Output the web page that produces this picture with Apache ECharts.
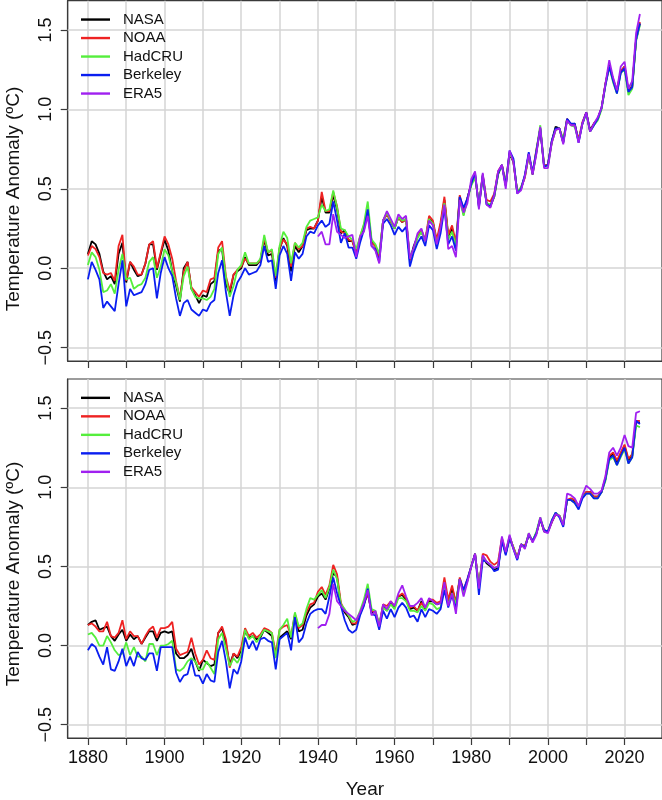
<!DOCTYPE html>
<html>
<head>
<meta charset="utf-8">
<script src="https://cdn.jsdelivr.net/npm/echarts@6/dist/echarts.min.js"></script>
<style>
html,body{margin:0;padding:0;background:#fff;overflow:hidden;}
#chart{width:662px;height:800px;}
</style>
</head>
<body>
<div id="chart"></div>
<script>
// ---------- categories ----------
const years = [
1880,1881,1882,1883,1884,1885,1886,1887,1888,1889,
1890,1891,1892,1893,1894,1895,1896,1897,1898,1899,
1900,1901,1902,1903,1904,1905,1906,1907,1908,1909,
1910,1911,1912,1913,1914,1915,1916,1917,1918,1919,
1920,1921,1922,1923,1924,1925,1926,1927,1928,1929,
1930,1931,1932,1933,1934,1935,1936,1937,1938,1939,
1940,1941,1942,1943,1944,1945,1946,1947,1948,1949,
1950,1951,1952,1953,1954,1955,1956,1957,1958,1959,
1960,1961,1962,1963,1964,1965,1966,1967,1968,1969,
1970,1971,1972,1973,1974,1975,1976,1977,1978,1979,
1980,1981,1982,1983,1984,1985,1986,1987,1988,1989,
1990,1991,1992,1993,1994,1995,1996,1997,1998,1999,
2000,2001,2002,2003,2004,2005,2006,2007,2008,2009,
2010,2011,2012,2013,2014,2015,2016,2017,2018,2019,
2020,2021,2022,2023,2024];
const era5Years = [
1940,1941,1942,1943,1944,1945,1946,1947,1948,1949,
1950,1951,1952,1953,1954,1955,1956,1957,1958,1959,
1960,1961,1962,1963,1964,1965,1966,1967,1968,1969,
1970,1971,1972,1973,1974,1975,1976,1977,1978,1979,
1980,1981,1982,1983,1984,1985,1986,1987,1988,1989,
1990,1991,1992,1993,1994,1995,1996,1997,1998,1999,
2000,2001,2002,2003,2004,2005,2006,2007,2008,2009,
2010,2011,2012,2013,2014,2015,2016,2017,2018,2019,
2020,2021,2022,2023,2024];

// ---------- tick labels ----------
const xTickYears = [1880,1890,1900,1910,1920,1930,1940,1950,1960,1970,1980,1990,2000,2010,2020];
const xLabelYears = [1880,1900,1920,1940,1960,1980,2000,2020];
const yTicks = [-0.5,0,0.5,1.0,1.5];
const seriesNames = ['NASA','NOAA','HadCRU','Berkeley','ERA5'];

// ---------- top panel values ----------
const topNASA = [
0.09,0.17,0.15,0.09,-0.02,-0.07,-0.05,-0.10,0.09,0.16,
-0.09,0.04,-0.01,-0.05,-0.04,0.03,0.15,0.15,-0.01,0.09,
0.18,0.11,-0.02,-0.11,-0.21,0.00,0.04,-0.13,-0.17,-0.22,
-0.17,-0.18,-0.10,-0.08,0.11,0.12,-0.10,-0.16,-0.04,-0.02,
0.00,0.07,0.02,0.02,0.02,0.05,0.18,0.08,0.09,-0.08,
0.12,0.19,0.14,-0.02,0.14,0.10,0.14,0.24,0.25,0.25,
0.30,0.45,0.35,0.35,0.46,0.37,0.22,0.24,0.17,0.17,
0.10,0.19,0.26,0.36,0.17,0.14,0.07,0.30,0.34,0.30,
0.25,0.32,0.29,0.31,0.05,0.14,0.20,0.23,0.17,0.31,
0.29,0.16,0.27,0.43,0.20,0.25,0.14,0.45,0.34,0.44,
0.53,0.59,0.39,0.58,0.41,0.39,0.45,0.59,0.65,0.52,
0.72,0.67,0.48,0.50,0.58,0.72,0.59,0.73,0.88,0.64,
0.65,0.80,0.89,0.88,0.79,0.94,0.90,0.91,0.80,0.91,
0.98,0.87,0.91,0.94,1.01,1.16,1.28,1.19,1.11,1.24,
1.27,1.11,1.15,1.44,1.54];
const topNOAA = [
0.08,0.14,0.12,0.07,-0.03,-0.04,-0.03,-0.08,0.14,0.21,
-0.08,0.04,0.01,-0.04,-0.04,0.03,0.15,0.17,0.00,0.10,
0.20,0.15,0.06,-0.08,-0.19,-0.02,0.04,-0.12,-0.15,-0.18,
-0.14,-0.15,-0.07,-0.06,0.13,0.17,-0.05,-0.14,-0.04,-0.01,
0.01,0.06,0.03,0.03,0.03,0.05,0.19,0.10,0.11,-0.06,
0.13,0.18,0.15,0.01,0.16,0.12,0.14,0.25,0.26,0.25,
0.30,0.48,0.36,0.36,0.48,0.39,0.23,0.22,0.18,0.17,
0.09,0.20,0.27,0.35,0.16,0.14,0.07,0.30,0.34,0.29,
0.26,0.32,0.29,0.31,0.05,0.12,0.20,0.24,0.18,0.33,
0.30,0.18,0.29,0.45,0.21,0.27,0.16,0.46,0.36,0.44,
0.53,0.58,0.40,0.59,0.43,0.42,0.47,0.61,0.65,0.54,
0.73,0.67,0.48,0.51,0.57,0.71,0.60,0.75,0.88,0.65,
0.65,0.79,0.87,0.88,0.81,0.94,0.90,0.90,0.81,0.92,
0.98,0.86,0.91,0.94,1.01,1.16,1.27,1.19,1.12,1.24,
1.27,1.12,1.14,1.44,1.55];
const topHadCRU = [
0.02,0.10,0.07,-0.01,-0.15,-0.14,-0.10,-0.16,-0.01,0.09,
-0.07,-0.06,-0.13,-0.11,-0.10,-0.06,0.04,0.07,-0.06,0.01,
0.12,0.08,-0.02,-0.09,-0.20,-0.05,0.01,-0.13,-0.18,-0.19,
-0.19,-0.20,-0.18,-0.13,0.09,0.13,-0.06,-0.18,-0.11,-0.01,
0.02,0.10,0.03,0.03,0.03,0.06,0.21,0.10,0.12,-0.05,
0.14,0.23,0.19,0.03,0.16,0.13,0.16,0.26,0.30,0.31,
0.32,0.40,0.36,0.37,0.49,0.38,0.25,0.24,0.20,0.18,
0.12,0.20,0.28,0.42,0.18,0.15,0.09,0.30,0.35,0.30,
0.25,0.32,0.30,0.31,0.06,0.12,0.19,0.23,0.17,0.31,
0.28,0.15,0.25,0.41,0.18,0.23,0.14,0.43,0.33,0.43,
0.52,0.57,0.41,0.58,0.41,0.40,0.45,0.60,0.64,0.54,
0.72,0.68,0.48,0.51,0.58,0.71,0.60,0.74,0.90,0.65,
0.64,0.79,0.87,0.88,0.81,0.93,0.90,0.89,0.80,0.91,
0.97,0.86,0.90,0.93,1.00,1.15,1.27,1.17,1.10,1.23,
1.25,1.09,1.13,1.43,1.53];
const topBerkeley = [
-0.07,0.04,-0.01,-0.07,-0.25,-0.21,-0.24,-0.27,-0.10,0.05,
-0.24,-0.13,-0.17,-0.16,-0.15,-0.10,-0.01,0.00,-0.19,-0.03,
0.07,0.00,-0.05,-0.19,-0.30,-0.22,-0.20,-0.26,-0.28,-0.30,
-0.26,-0.27,-0.22,-0.20,-0.03,0.05,-0.15,-0.30,-0.17,-0.09,
-0.05,0.00,-0.04,-0.03,-0.02,0.02,0.14,0.04,0.05,-0.13,
0.08,0.14,0.09,-0.08,0.10,0.06,0.09,0.20,0.23,0.22,
0.27,0.30,0.26,0.28,0.42,0.30,0.16,0.22,0.13,0.13,
0.06,0.16,0.24,0.37,0.14,0.12,0.04,0.28,0.31,0.27,
0.21,0.26,0.23,0.26,0.01,0.10,0.16,0.20,0.14,0.27,
0.24,0.12,0.22,0.38,0.15,0.20,0.11,0.45,0.38,0.44,
0.53,0.60,0.38,0.59,0.40,0.39,0.46,0.60,0.65,0.52,
0.74,0.69,0.47,0.50,0.59,0.73,0.60,0.74,0.88,0.64,
0.65,0.80,0.88,0.88,0.79,0.94,0.91,0.91,0.79,0.91,
0.98,0.86,0.90,0.94,1.01,1.15,1.27,1.18,1.10,1.23,
1.26,1.11,1.14,1.44,1.54];
const topERA5 = [
0.20,0.23,0.15,0.15,0.34,0.23,0.21,0.19,0.20,0.21,
0.07,0.20,0.23,0.33,0.14,0.11,0.03,0.30,0.36,0.31,
0.26,0.34,0.31,0.33,0.06,0.13,0.22,0.25,0.17,0.30,
0.27,0.15,0.26,0.40,0.12,0.14,0.07,0.43,0.35,0.41,
0.56,0.61,0.37,0.60,0.40,0.38,0.46,0.61,0.65,0.50,
0.74,0.67,0.47,0.49,0.58,0.72,0.59,0.72,0.89,0.63,
0.63,0.79,0.87,0.88,0.78,0.93,0.90,0.90,0.79,0.91,
0.98,0.86,0.91,0.95,1.01,1.16,1.31,1.20,1.12,1.27,
1.30,1.13,1.18,1.48,1.60];

// ---------- bottom panel values ----------
const botNASA = [
0.13,0.15,0.16,0.10,0.11,0.12,0.06,0.03,0.07,0.10,
0.03,0.07,0.04,0.06,0.01,0.05,0.09,0.09,0.03,0.08,
0.09,0.08,0.09,-0.05,-0.08,-0.08,-0.06,-0.02,-0.10,-0.16,
-0.09,-0.11,-0.13,-0.12,0.08,0.11,0.01,-0.12,-0.05,-0.08,
-0.03,0.09,0.05,0.06,0.04,0.05,0.10,0.08,0.06,-0.07,
0.05,0.07,0.09,0.04,0.19,0.09,0.10,0.19,0.24,0.26,
0.31,0.33,0.29,0.36,0.46,0.43,0.25,0.21,0.18,0.13,
0.14,0.20,0.26,0.33,0.21,0.21,0.12,0.25,0.22,0.27,
0.24,0.31,0.32,0.29,0.23,0.24,0.22,0.28,0.23,0.28,
0.28,0.26,0.27,0.39,0.28,0.36,0.27,0.42,0.34,0.41,
0.50,0.58,0.37,0.56,0.52,0.50,0.48,0.49,0.67,0.58,
0.68,0.62,0.55,0.64,0.62,0.70,0.66,0.71,0.80,0.72,
0.72,0.78,0.83,0.82,0.76,0.92,0.92,0.91,0.87,0.94,
0.97,0.97,0.94,0.94,0.97,1.05,1.19,1.21,1.16,1.21,
1.26,1.17,1.20,1.41,1.41];
const botNOAA = [
0.13,0.14,0.12,0.09,0.09,0.15,0.06,0.05,0.08,0.16,
0.04,0.09,0.06,0.06,0.01,0.06,0.10,0.12,0.05,0.11,
0.11,0.12,0.15,-0.02,-0.06,-0.05,-0.04,0.05,-0.05,-0.12,
-0.09,-0.03,-0.08,-0.09,0.08,0.12,0.04,-0.14,-0.05,-0.07,
-0.01,0.11,0.06,0.08,0.05,0.07,0.11,0.10,0.08,-0.05,
0.10,0.12,0.13,0.06,0.20,0.11,0.13,0.21,0.26,0.27,
0.34,0.37,0.32,0.38,0.51,0.45,0.27,0.22,0.19,0.14,
0.14,0.21,0.27,0.33,0.22,0.21,0.13,0.26,0.25,0.28,
0.25,0.31,0.33,0.30,0.24,0.25,0.22,0.27,0.24,0.29,
0.29,0.27,0.28,0.43,0.29,0.38,0.27,0.43,0.35,0.42,
0.50,0.58,0.37,0.58,0.57,0.53,0.51,0.53,0.68,0.59,
0.69,0.62,0.56,0.64,0.63,0.70,0.66,0.71,0.80,0.73,
0.72,0.78,0.83,0.82,0.77,0.92,0.93,0.92,0.88,0.94,
0.97,0.97,0.94,0.94,0.97,1.06,1.20,1.22,1.17,1.22,
1.27,1.18,1.21,1.42,1.42];
const botHadCRU = [
0.07,0.08,0.05,0.00,0.00,0.06,0.02,-0.03,-0.06,-0.05,
0.02,-0.06,-0.01,-0.07,-0.07,-0.10,0.01,0.01,-0.06,0.00,
0.00,0.01,0.03,-0.15,-0.16,-0.14,-0.10,-0.08,-0.10,-0.15,
-0.15,-0.10,-0.14,-0.18,0.04,0.08,-0.02,-0.13,-0.08,-0.11,
-0.06,0.10,0.04,0.06,0.02,0.06,0.10,0.09,0.08,-0.08,
0.10,0.13,0.17,0.05,0.21,0.12,0.14,0.23,0.30,0.29,
0.32,0.35,0.30,0.37,0.48,0.42,0.26,0.23,0.19,0.15,
0.16,0.22,0.29,0.39,0.23,0.22,0.14,0.24,0.22,0.26,
0.23,0.30,0.30,0.28,0.22,0.22,0.21,0.25,0.22,0.27,
0.26,0.23,0.24,0.38,0.26,0.33,0.26,0.42,0.33,0.41,
0.50,0.57,0.38,0.56,0.53,0.51,0.49,0.50,0.66,0.59,
0.69,0.62,0.55,0.64,0.62,0.71,0.66,0.72,0.81,0.73,
0.72,0.79,0.84,0.82,0.77,0.92,0.92,0.90,0.87,0.94,
0.96,0.96,0.93,0.93,0.97,1.04,1.17,1.19,1.14,1.19,
1.24,1.15,1.19,1.39,1.38];
const botBerkeley = [
-0.03,0.01,-0.01,-0.07,-0.12,-0.01,-0.15,-0.16,-0.10,-0.02,
-0.13,-0.07,-0.13,-0.04,-0.08,-0.09,-0.05,-0.05,-0.16,-0.01,
-0.01,-0.01,-0.01,-0.17,-0.23,-0.19,-0.18,-0.09,-0.19,-0.19,
-0.24,-0.18,-0.22,-0.23,-0.04,0.03,-0.10,-0.27,-0.15,-0.18,
-0.10,0.05,-0.02,0.03,-0.03,0.04,0.05,0.03,0.02,-0.15,
0.04,0.06,0.08,-0.03,0.18,0.02,0.05,0.14,0.20,0.22,
0.23,0.23,0.20,0.31,0.43,0.33,0.25,0.16,0.10,0.08,
0.10,0.19,0.25,0.36,0.20,0.19,0.10,0.22,0.17,0.23,
0.18,0.24,0.27,0.24,0.18,0.19,0.15,0.23,0.18,0.23,
0.22,0.20,0.23,0.35,0.24,0.32,0.23,0.42,0.35,0.42,
0.50,0.58,0.32,0.54,0.53,0.51,0.47,0.48,0.66,0.57,
0.68,0.61,0.54,0.64,0.62,0.70,0.66,0.71,0.80,0.73,
0.72,0.79,0.84,0.81,0.75,0.92,0.92,0.90,0.86,0.93,
0.96,0.96,0.93,0.93,0.97,1.05,1.18,1.20,1.14,1.20,
1.25,1.15,1.19,1.42,1.40];
const botERA5 = [
0.11,0.13,0.13,0.20,0.39,0.28,0.25,0.22,0.20,0.18,
0.16,0.21,0.27,0.35,0.19,0.22,0.12,0.26,0.23,0.28,
0.25,0.33,0.38,0.31,0.25,0.25,0.27,0.30,0.24,0.30,
0.28,0.26,0.27,0.40,0.25,0.33,0.20,0.42,0.31,0.40,
0.50,0.58,0.36,0.57,0.53,0.51,0.49,0.50,0.69,0.59,
0.70,0.61,0.55,0.64,0.61,0.71,0.65,0.70,0.81,0.72,
0.71,0.78,0.83,0.82,0.76,0.96,0.95,0.93,0.88,0.95,
1.01,0.99,0.96,0.96,0.98,1.07,1.22,1.25,1.20,1.25,
1.33,1.26,1.25,1.47,1.48];

// ---------- styling ----------
const colors = {NASA:'#000000', NOAA:'#EE2222', HadCRU:'#55EE3C', Berkeley:'#0A1EF0', ERA5:'#A020F0'};
const FONT = '"Liberation Sans", Arial, Helvetica, sans-serif';
const AXIS_COLOR = '#3a3a3a';
const GRID_COLOR = '#d4d4d4';

const plotLeft = 67.7, plotWidth = 597.3, plotHeight = 360.3;
const gridTops = [0.7, 379];
const xMin = 1874.73, xMax = 2029.76;
const yMin = -0.584, yMax = 1.684;

function pairs(xs, vs){ return xs.map((x,i)=>[x, vs[i]]); }
const fmt = v => v.toFixed(1).replace('-', '\u2212');

const panels = [
  {NASA:topNASA, NOAA:topNOAA, HadCRU:topHadCRU, Berkeley:topBerkeley, ERA5:topERA5},
  {NASA:botNASA, NOAA:botNOAA, HadCRU:botHadCRU, Berkeley:botBerkeley, ERA5:botERA5}
];

const grid = gridTops.map(t => ({
  left: plotLeft, top: t, width: plotWidth, height: plotHeight,
  show: true, borderColor: AXIS_COLOR, borderWidth: 1.2, backgroundColor: 'transparent',
  containLabel: false
}));

const xAxis = gridTops.map((t, gi) => ({
  type: 'value', gridIndex: gi, min: xMin, max: xMax, position: 'bottom',
  axisLine: {show: true, onZero: false, lineStyle: {color: AXIS_COLOR, width: 1.2}},
  axisTick: {show: true, inside: false, length: 7, customValues: xTickYears,
             lineStyle: {color: AXIS_COLOR, width: 1.2}},
  axisLabel: gi === 1 ? {show: true, customValues: xLabelYears, fontSize: 18, color: '#111',
             fontFamily: FONT, margin: 11, formatter: v => String(Math.round(v))} : {show: false},
  splitLine: {show: false},
  name: gi === 1 ? 'Year' : '',
  nameLocation: 'middle', nameGap: 42,
  nameTextStyle: {fontSize: 19, color: '#111', fontFamily: FONT}
}));

const yAxis = gridTops.map((t, gi) => ({
  type: 'value', gridIndex: gi, min: yMin, max: yMax, position: 'left',
  axisLine: {show: true, onZero: false, lineStyle: {color: AXIS_COLOR, width: 1.2}},
  axisTick: {show: true, inside: false, length: 7, customValues: yTicks,
             lineStyle: {color: AXIS_COLOR, width: 1.2}},
  axisLabel: {show: true, customValues: yTicks, rotate: 90, fontSize: 18, color: '#111',
              fontFamily: FONT, margin: 13, formatter: fmt},
  splitLine: {show: false}
}));

const series = [];
panels.forEach((p, gi) => {
  seriesNames.forEach((name, si) => {
    const xs = name === 'ERA5' ? era5Years : years;
    const s = {
      name: name, type: 'line', xAxisIndex: gi, yAxisIndex: gi,
      data: pairs(xs, p[name]),
      symbol: 'none', showSymbol: false, smooth: false,
      lineStyle: {color: colors[name], width: 1.8},
      itemStyle: {color: colors[name]},
      z: 3 + si, silent: true, animation: false
    };
    if (si === 0) {
      s.markLine = {
        silent: true, symbol: 'none', z: 1, animation: false,
        label: {show: false},
        lineStyle: {color: GRID_COLOR, width: 1.5, type: 'solid'},
        emphasis: {disabled: true},
        data: xTickYears.map(v => ({xAxis: v})).concat(yTicks.map(v => ({yAxis: v})))
      };
    }
    series.push(s);
  });
});

const legend = gridTops.map((t, gi) => ({
  data: seriesNames.map(n => ({name: n, icon: 'rect'})),
  orient: 'vertical', left: 81, top: t + 9.6,
  itemWidth: 29, itemHeight: 2.4, itemGap: 0, padding: 0,
  selectedMode: false,
  textStyle: {fontSize: 15, lineHeight: 18.5, color: '#111', fontFamily: FONT, padding: [0, 0, 0, 8]}
}));

const titleCenters = [199, 574];
const graphic = titleCenters.map(cy => ({
  type: 'text', x: 14, y: cy, rotation: Math.PI / 2,
  style: {text: 'Temperature Anomaly (\u00BAC)', fontSize: 19, fontFamily: FONT, fill: '#111',
          textAlign: 'center', textVerticalAlign: 'middle', align: 'center', verticalAlign: 'middle'}
}));

const chart = echarts.init(document.getElementById('chart'), null, {renderer: 'canvas'});
chart.setOption({
  animation: false,
  backgroundColor: '#ffffff',
  textStyle: {fontFamily: FONT},
  grid: grid, xAxis: xAxis, yAxis: yAxis,
  legend: legend, series: series, graphic: graphic
});
</script>
</body>
</html>
